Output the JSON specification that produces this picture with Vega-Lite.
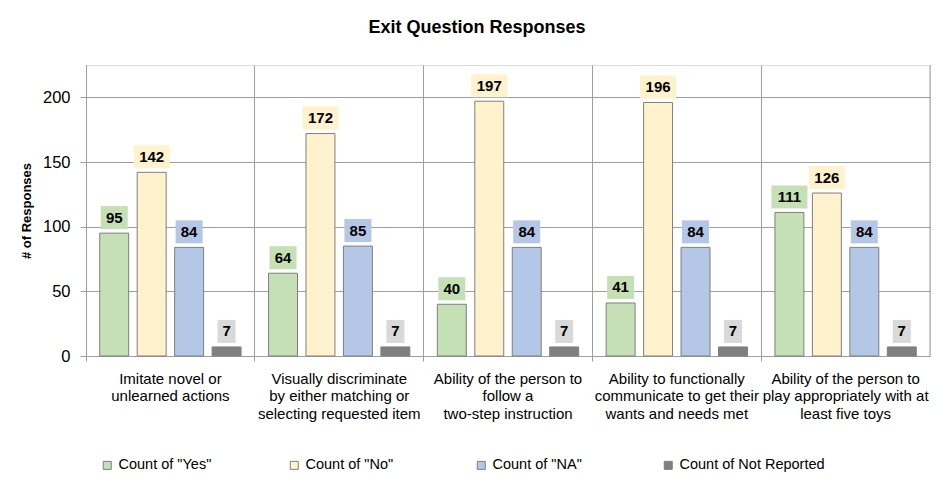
{
  "$schema": "https://vega.github.io/schema/vega-lite/v6.json",
  "width": 844,
  "height": 291,
  "autosize": {"type": "none"},
  "padding": {"left": 86, "top": 65, "right": 12, "bottom": 125},
  "background": "white",
  "title": {
    "text": "Exit Question Responses",
    "font": "Liberation Sans",
    "fontSize": 18,
    "fontWeight": "bold",
    "color": "#000000",
    "anchor": "middle",
    "baseline": "alphabetic",
    "offset": 14,
    "dx": -31
  },
  "data": {
    "values": [
      {"cat": "Imitate novel or|unlearned actions", "series": "Count of \"Yes\"", "value": 95},
      {"cat": "Imitate novel or|unlearned actions", "series": "Count of \"No\"", "value": 142},
      {"cat": "Imitate novel or|unlearned actions", "series": "Count of \"NA\"", "value": 84},
      {"cat": "Imitate novel or|unlearned actions", "series": "Count of Not Reported", "value": 7},
      {"cat": "Visually discriminate|by either matching or|selecting requested item", "series": "Count of \"Yes\"", "value": 64},
      {"cat": "Visually discriminate|by either matching or|selecting requested item", "series": "Count of \"No\"", "value": 172},
      {"cat": "Visually discriminate|by either matching or|selecting requested item", "series": "Count of \"NA\"", "value": 85},
      {"cat": "Visually discriminate|by either matching or|selecting requested item", "series": "Count of Not Reported", "value": 7},
      {"cat": "Ability of the person to|follow a|two-step instruction", "series": "Count of \"Yes\"", "value": 40},
      {"cat": "Ability of the person to|follow a|two-step instruction", "series": "Count of \"No\"", "value": 197},
      {"cat": "Ability of the person to|follow a|two-step instruction", "series": "Count of \"NA\"", "value": 84},
      {"cat": "Ability of the person to|follow a|two-step instruction", "series": "Count of Not Reported", "value": 7},
      {"cat": "Ability to functionally|communicate to get their|wants and needs met", "series": "Count of \"Yes\"", "value": 41},
      {"cat": "Ability to functionally|communicate to get their|wants and needs met", "series": "Count of \"No\"", "value": 196},
      {"cat": "Ability to functionally|communicate to get their|wants and needs met", "series": "Count of \"NA\"", "value": 84},
      {"cat": "Ability to functionally|communicate to get their|wants and needs met", "series": "Count of Not Reported", "value": 7},
      {"cat": "Ability of the person to|play appropriately with at|least five toys", "series": "Count of \"Yes\"", "value": 111},
      {"cat": "Ability of the person to|play appropriately with at|least five toys", "series": "Count of \"No\"", "value": 126},
      {"cat": "Ability of the person to|play appropriately with at|least five toys", "series": "Count of \"NA\"", "value": 84},
      {"cat": "Ability of the person to|play appropriately with at|least five toys", "series": "Count of Not Reported", "value": 7}
    ]
  },
  "encoding": {
    "x": {
      "field": "cat",
      "type": "nominal",
      "sort": [
        "Imitate novel or|unlearned actions",
        "Visually discriminate|by either matching or|selecting requested item",
        "Ability of the person to|follow a|two-step instruction",
        "Ability to functionally|communicate to get their|wants and needs met",
        "Ability of the person to|play appropriately with at|least five toys"
      ],
      "scale": {"paddingInner": 0, "paddingOuter": 0},
      "axis": {
        "title": null,
        "labelAngle": 0,
        "labelExpr": "split(datum.label, '|')",
        "labelFont": "Liberation Sans",
        "labelFontSize": 15,
        "labelColor": "#000000",
        "labelLineHeight": 17.5,
        "labelBaseline": "top",
        "labelPadding": 10,
        "labelLimit": 400,
        "labelOverlap": false,
        "bandPosition": 0,
        "grid": true,
        "gridColor": "#9E9E9E",
        "gridWidth": 1,
        "ticks": true,
        "tickSize": 5,
        "tickColor": "#9E9E9E",
        "domainColor": "#9E9E9E",
        "domainWidth": 1
      }
    }
  },
  "layer": [
    {
      "mark": {"type": "bar", "stroke": "#7F7F7F", "strokeWidth": 1},
      "encoding": {
        "xOffset": {
          "field": "series",
          "type": "nominal",
          "sort": null,
          "scale": {
            "domain": ["Count of \"Yes\"", "Count of \"No\"", "Count of \"NA\"", "Count of Not Reported"],
            "paddingInner": 0.227,
            "paddingOuter": 0.367
          }
        },
        "y": {
          "field": "value",
          "type": "quantitative",
          "scale": {"domain": [0, 225], "nice": false},
          "axis": {
            "title": "# of Responses",
            "titleFont": "Liberation Sans",
            "titleFontSize": 13,
            "titleFontWeight": "bold",
            "titleColor": "#000000",
            "titlePadding": 9,
            "values": [0, 50, 100, 150, 200],
            "labelFont": "Liberation Sans",
            "labelFontSize": 16.5,
            "labelColor": "#000000",
            "labelPadding": 10,
            "tickSize": 6,
            "tickColor": "#9E9E9E",
            "domainColor": "#9E9E9E",
            "grid": true,
            "gridColor": "#9E9E9E",
            "gridWidth": 1
          }
        },
        "color": {
          "field": "series",
          "type": "nominal",
          "scale": {
            "domain": ["Count of \"Yes\"", "Count of \"No\"", "Count of \"NA\"", "Count of Not Reported"],
            "range": ["#C5E0B4", "#FFF2CC", "#B4C7E7", "#808080"]
          },
          "legend": {
            "title": null,
            "orient": "none",
            "legendX": 14,
            "legendY": 393,
            "direction": "horizontal",
            "columns": 4,
            "gridAlign": "all",
            "columnPadding": 23,
            "symbolType": "square",
            "symbolSize": 64,
            "symbolStrokeColor": "#7F7F7F",
            "symbolStrokeWidth": 1,
            "labelFont": "Liberation Sans",
            "labelFontSize": 14.5,
            "labelColor": "#000000",
            "labelOffset": 4,
            "labelLimit": 300
          }
        }
      }
    },
    {
      "transform": [{"calculate": "length(toString(datum.value))", "as": "digits"}],
      "mark": {"type": "point", "filled": true, "opacity": 1, "size": 4, "strokeWidth": 0},
      "encoding": {
        "xOffset": {"field": "series", "type": "nominal", "sort": null},
        "y": {"field": "value", "type": "quantitative"},
        "shape": {
          "field": "digits",
          "type": "nominal",
          "scale": {
            "domain": [1, 2, 3],
            "range": ["M-9,-27H9V-4H-9Z", "M-13.5,-27H13.5V-4H-13.5Z", "M-18,-27H18V-4H-18Z"]
          },
          "legend": null
        },
        "fill": {
          "field": "series",
          "type": "nominal",
          "scale": {
            "domain": ["Count of \"Yes\"", "Count of \"No\"", "Count of \"NA\"", "Count of Not Reported"],
            "range": ["#C5E0B4", "#FFF2CC", "#B4C7E7", "#D9D9D9"]
          },
          "legend": null
        }
      }
    },
    {
      "mark": {
        "type": "text",
        "font": "Liberation Sans",
        "fontSize": 15,
        "fontWeight": "bold",
        "color": "#000000",
        "baseline": "middle",
        "align": "center",
        "dy": -15.5
      },
      "encoding": {
        "xOffset": {"field": "series", "type": "nominal", "sort": null},
        "y": {"field": "value", "type": "quantitative"},
        "text": {"field": "value", "type": "quantitative"}
      }
    },
    {
      "transform": [{"filter": "datum.series == 'Count of Not Reported' && indexof(datum.cat, 'least five toys') >= 0"}],
      "mark": {"type": "rule", "color": "#9E9E9E", "strokeWidth": 1},
      "encoding": {
        "x": {
          "field": "cat",
          "type": "nominal",
          "sort": [
            "Imitate novel or|unlearned actions",
            "Visually discriminate|by either matching or|selecting requested item",
            "Ability of the person to|follow a|two-step instruction",
            "Ability to functionally|communicate to get their|wants and needs met",
            "Ability of the person to|play appropriately with at|least five toys"
          ],
          "bandPosition": 1
        }
      }
    }
  ]
}
